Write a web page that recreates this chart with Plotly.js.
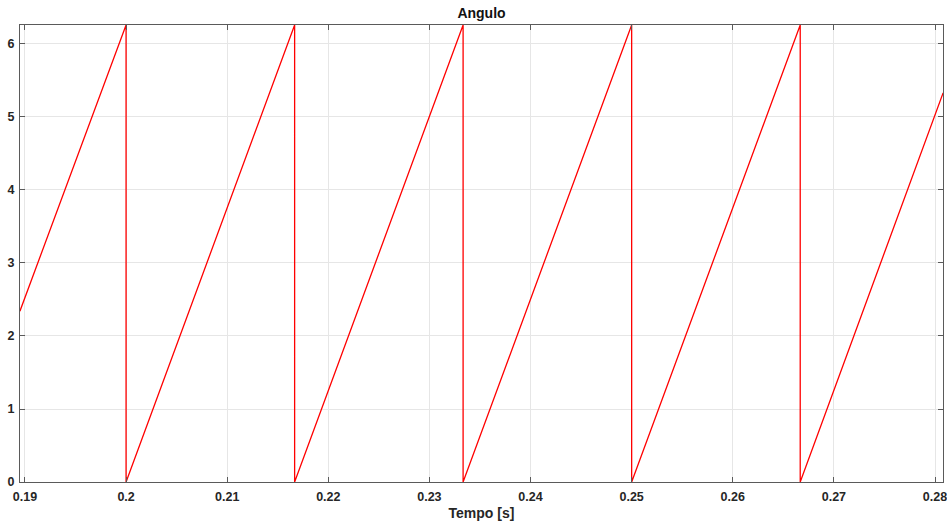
<!DOCTYPE html>
<html>
<head>
<meta charset="utf-8">
<script src="https://cdn.plot.ly/plotly-3.0.1.min.js"></script>
<style>html,body{margin:0;padding:0;background:#fff;}#chart{width:947px;height:524px;}</style>
</head>
<body>
<div id="chart"></div>
<script>
// Sawtooth angle: ramps to ~6.26 rad, resets to 0
const tempo = [0.1895, 0.2, 0.2, 0.21667, 0.21667, 0.23333, 0.23333, 0.25, 0.25, 0.26667, 0.26667, 0.2808];
const angulo = [2.34, 6.26, 0, 6.26, 0, 6.26, 0, 6.26, 0, 6.26, 0, 5.33];
const xTicks = [0.19, 0.2, 0.21, 0.22, 0.23, 0.24, 0.25, 0.26, 0.27, 0.28];
const xTickText = ['0.19', '0.2', '0.21', '0.22', '0.23', '0.24', '0.25', '0.26', '0.27', '0.28'];
const yTicks = [0, 1, 2, 3, 4, 5, 6];

const fontFam = 'Liberation Sans, Arial, sans-serif';
const axisCommon = {
  showline: true, linecolor: '#5a5a5a', linewidth: 1, mirror: 'ticks',
  ticks: 'inside', ticklen: 5, tickcolor: '#5a5a5a',
  showgrid: true, gridcolor: '#e6e6e6', gridwidth: 1,
  zeroline: false, ticklabeloverflow: 'allow',
  tickfont: {family: fontFam, size: 12.5, color: '#262626', weight: 'bold'}
};
const layout = {
  width: 947, height: 524,
  margin: {l: 20, r: 4, t: 25, b: 42},
  paper_bgcolor: '#fff', plot_bgcolor: '#fff',
  showlegend: false,
  title: {text: 'Angulo', font: {family: fontFam, size: 14, color: '#111', weight: 'bold'}, x: 0.5, xref: 'paper', xanchor: 'center', y: 0.985, yanchor: 'top'},
  xaxis: Object.assign({}, axisCommon, {
    range: [0.18951, 0.28079], tickvals: xTicks, ticktext: xTickText, ticklabelstandoff: 3,
    title: {text: 'Tempo [s]', font: {family: fontFam, size: 14, color: '#262626', weight: 'bold'}, standoff: 5}
  }),
  yaxis: Object.assign({}, axisCommon, {
    range: [0, 6.26], tickvals: yTicks, ticklabelstandoff: 2
  })
};
Plotly.newPlot('chart', [{
  x: tempo, y: angulo, type: 'scatter', mode: 'lines',
  line: {color: '#ff0000', width: 1.3}, hoverinfo: 'skip', cliponaxis: true
}], layout, {displayModeBar: false, staticPlot: true});
</script>
</body>
</html>
